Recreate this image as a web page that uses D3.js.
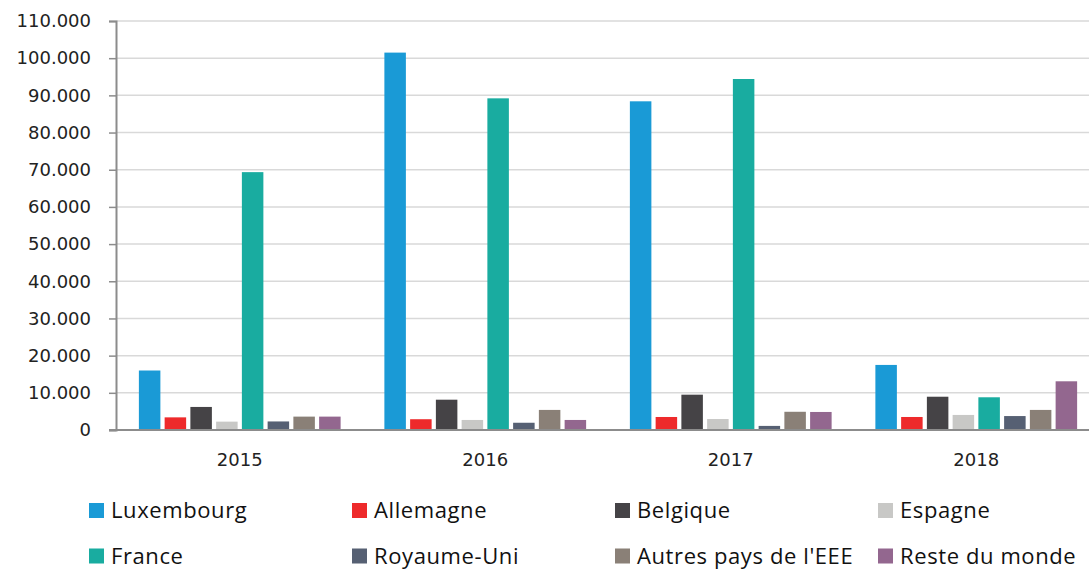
<!DOCTYPE html>
<html><head><meta charset="utf-8">
<script src="https://cdn.jsdelivr.net/npm/d3@7"></script>
<style>body{margin:0;background:#fff}svg{display:block}</style>
</head><body>
<svg id="c" width="1089" height="569"></svg>
<script>
const years = ["2015","2016","2017","2018"];
const countries = ["Luxembourg","Allemagne","Belgique","Espagne","France","Royaume-Uni","Autres pays de l'EEE","Reste du monde"];
const colors = ["#1a9ad6","#ee2a2b","#454346","#c8c8c6","#19aca0","#566073","#8a8077","#93678f"];
const luxembourg = [16000, 101500, 88400, 17500];
const allemagne  = [3400, 2900, 3500, 3500];
const belgique   = [6200, 8150, 9500, 8950];
const espagne    = [2250, 2700, 2950, 4050];
const france     = [69350, 89200, 94400, 8800];
const royaumeUni = [2300, 1950, 1100, 3750];
const autresEEE  = [3600, 5400, 4900, 5400];
const resteMonde = [3600, 2700, 4850, 13100];
const yTicks = [0,10000,20000,30000,40000,50000,60000,70000,80000,90000,100000,110000];

const series = [luxembourg, allemagne, belgique, espagne, france, royaumeUni, autresEEE, resteMonde];
const svg = d3.select("#c");
const x0 = d3.scaleBand().domain(years).range([117,1099]).paddingInner(0.16).paddingOuter(0.08);
const x1 = d3.scaleBand().domain(countries).range([0,x0.bandwidth()]).paddingInner(0.165).paddingOuter(0.087);
const y = d3.scaleLinear().domain([0,110000]).range([430,21]);
const fmt = v => v===0 ? "0" : d3.format(",")(v).replace(/,/g,".");
const axisFont = "'DejaVu Sans', sans-serif";

// gridlines
svg.append("g").selectAll("line").data(yTicks.filter(d=>d>0)).join("line")
  .attr("x1",116).attr("x2",1089).attr("y1",d=>y(d)).attr("y2",d=>y(d))
  .attr("stroke","#d9d9d9").attr("stroke-width",1.5);

// bars
const g = svg.append("g");
years.forEach((yr,i)=>{
  g.append("g").attr("transform",`translate(${x0(yr)},0)`)
   .selectAll("rect").data(countries).join("rect")
   .attr("x",c=>x1(c)).attr("width",x1.bandwidth())
   .attr("y",(c,j)=>y(series[j][i])).attr("height",(c,j)=>y(0)-y(series[j][i]))
   .attr("fill",(c,j)=>colors[j]);
});

// y axis
const yAxis = d3.axisLeft(y).tickValues(yTicks).tickFormat(fmt).tickSize(7).tickPadding(18);
const ya = svg.append("g").attr("transform","translate(116,0)").call(yAxis);
ya.select(".domain").attr("stroke","#8c8c8c").attr("stroke-width",2);
ya.selectAll(".tick line").attr("stroke","#8c8c8c").attr("stroke-width",1.5);
ya.selectAll(".tick text").attr("font-family",axisFont).attr("font-size",18).attr("fill","#222");

// baseline
svg.append("line").attr("x1",109).attr("x2",1089).attr("y1",y(0)).attr("y2",y(0)).attr("stroke","#8c8c8c").attr("stroke-width",2);

// x labels
svg.append("g").selectAll("text").data(years).join("text")
  .attr("x",d=>x0(d)+x0.bandwidth()/2).attr("y",466).attr("text-anchor","middle")
  .attr("font-family",axisFont).attr("font-size",18).attr("fill","#222").text(d=>d);

// legend
const colX = [89,352,615,878];
const rowY = [510.5,556];
const lg = svg.append("g");
countries.forEach((c,i)=>{
  const cx = colX[i%4], cy = rowY[Math.floor(i/4)];
  lg.append("rect").attr("x",cx).attr("y",cy-7.5).attr("width",15).attr("height",15).attr("fill",colors[i]);
  lg.append("text").attr("x",cx+22).attr("y",cy+7.5).attr("font-family","'Open Sans', sans-serif")
    .attr("font-size",22).attr("letter-spacing",0.6).attr("fill","#111").text(c);
});
</script>
</body></html>
